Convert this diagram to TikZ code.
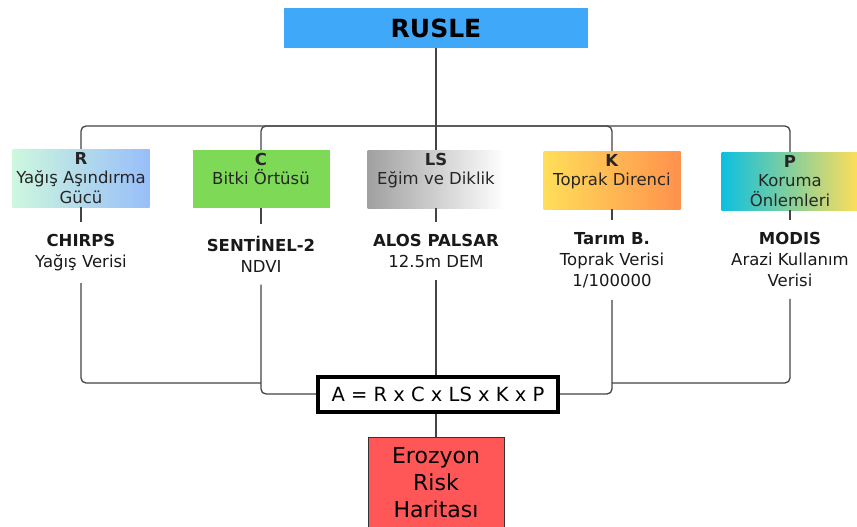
\documentclass[tikz,border=0pt]{standalone}
\usepackage{fontspec}
\setmainfont{DejaVu Sans}
\usetikzlibrary{positioning}

\definecolor{rusleblue}{RGB}{64,168,248}
\definecolor{cgreen}{RGB}{126,217,87}
\definecolor{riskred}{RGB}{255,87,87}
\definecolor{kyellow}{RGB}{255,222,89}
\definecolor{korange}{RGB}{255,145,77}
\definecolor{pcyan}{RGB}{12,192,223}
\definecolor{rmint}{RGB}{205,247,222}
\definecolor{rblue}{RGB}{152,190,249}
\definecolor{lsgray}{RGB}{160,160,160}
\definecolor{wire}{RGB}{68,68,68}

\tikzset{
  conn/.style={draw=wire, line width=1.3pt, rounded corners=5pt},
  factorbox/.style={minimum width=137pt, minimum height=58pt, inner sep=0pt},
  factortext/.style={align=center, inner sep=0pt, font=\fontsize{16.5}{19.5}\selectfont, text=black!85},
  datatext/.style={align=center, inner ysep=12pt, font=\fontsize{16.5}{21}\selectfont, text=black!90}
}

\begin{document}
\begin{tikzpicture}[x=1pt,y=-1pt]
\useasboundingbox (0,0) rectangle (857,527);

% top box
\node[fill=rusleblue, minimum width=304pt, minimum height=40pt,
      font=\fontsize{25}{28}\selectfont\bfseries] (rusle) at (436,28) {RUSLE};
\coordinate (bus) at (436,126);

% factor boxes
\node[factorbox, left color=rmint, right color=rblue] (R) at (81,178) {};
\node[factorbox, fill=cgreen] (C) at (261,179) {};
\node[factorbox, left color=lsgray, right color=white] (LS) at (436,179) {};
\node[factorbox, left color=kyellow, right color=korange] (K) at (612,180) {};
\node[factorbox, left color=pcyan, right color=kyellow] (P) at (790,181) {};

\node[factortext, below=3pt of R.north] (Rt) {\textbf{R}\\Yağış Aşındırma\\Gücü};
\node[factortext, below=3pt of C.north] (Ct) {\textbf{C}\\Bitki Örtüsü};
\node[factortext, below=3pt of LS.north] (LSt) {\textbf{LS}\\Eğim ve Diklik};
\node[factortext, below=3pt of K.north] (Kt) {\textbf{K}\\Toprak Direnci};
\node[factortext, below=3pt of P.north] (Pt) {\textbf{P}\\Koruma\\Önlemleri};

% data sources
\node[datatext, anchor=north] (Rd) at (81,222) {\textbf{CHIRPS}\\Yağış Verisi};
\node[datatext, anchor=north] (Cd) at (261,224) {\textbf{SENTİNEL-2}\\NDVI};
\node[datatext, anchor=north] (LSd) at (436,222) {\textbf{ALOS PALSAR}\\12.5m DEM};
\node[datatext, anchor=north] (Kd) at (612,220) {\textbf{Tarım B.}\\Toprak Verisi\\1/100000};
\node[datatext, anchor=north] (Pd) at (790,220) {\textbf{MODIS}\\Arazi Kullanım\\Verisi};

% formula and result
\node[draw=black, line width=4pt, fill=white, minimum width=240pt, minimum height=35pt,
      font=\fontsize{19.5}{22}\selectfont] (F) at (438,394) {A = R x C x LS x K x P};
\node[draw=black!80, line width=1pt, fill=riskred, minimum width=136pt, minimum height=92pt,
      align=center, font=\fontsize{22}{27}\selectfont] (E) at (436,483) {Erozyon\\Risk\\Haritası};
\coordinate (jl) at (261,383);
\coordinate (jr) at (612,383);

% connectors
\draw[conn] (rusle) -- (bus);
\draw[conn] (bus) -| (R.north);
\draw[conn] (bus) -| (C.north);
\draw[conn] (bus) -- (LS.north);
\draw[conn] (bus) -| (K.north);
\draw[conn] (bus) -| (P.north);

\draw[conn] (R.south) -- (Rd.north);
\draw[conn] (C.south) -- (Cd.north);
\draw[conn] (LS.south) -- (LSd.north);
\draw[conn] (K.south) -- (Kd.north);
\draw[conn] (P.south) -- (Pd.north);

\draw[conn] (Rd.south) |- (jl);
\draw[conn] (Cd.south) |- (F.west);
\draw[conn] (LSd.south) -- (LSd.south |- F.north);
\draw[conn] (Kd.south) |- (F.east);
\draw[conn] (Pd.south) |- (jr);
\draw[conn] (F.south -| E.north) -- (E.north);

\end{tikzpicture}
\end{document}
